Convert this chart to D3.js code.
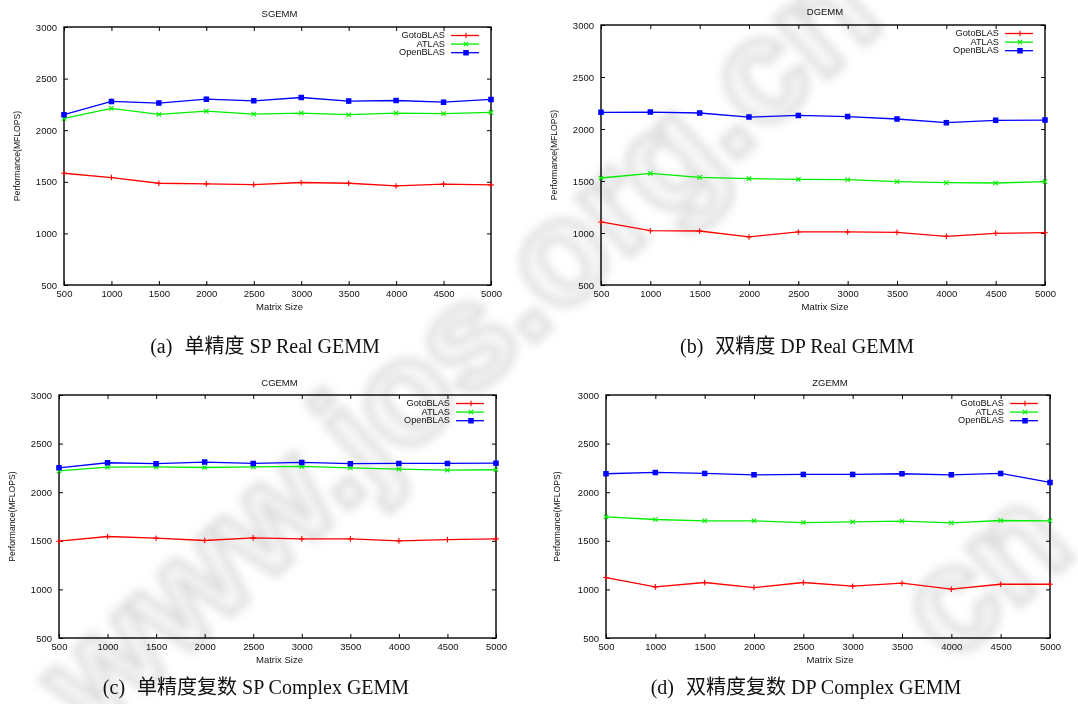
<!DOCTYPE html>
<html>
<head>
<meta charset="utf-8">
<script src="https://cdn.jsdelivr.net/npm/d3@7"></script>
<style>
  html, body { margin: 0; padding: 0; background: #fff; }
  svg { display: block; }
  .tick-label, .legend-label, .panel-title, .axis-title { font-family: "Liberation Sans", Arial, sans-serif; fill: #111; }
  .caption { font-family: "Liberation Serif", "Times New Roman", "Noto Sans CJK SC", serif; fill: #111; }
</style>
</head>
<body>
<svg id="chart" width="1078" height="704"></svg>
<script>
// matrix sizes along x, tick values along y
const sizes = [500, 1000, 1500, 2000, 2500, 3000, 3500, 4000, 4500, 5000];
const yTicks = [500, 1000, 1500, 2000, 2500, 3000];
const seriesNames = ["GotoBLAS", "ATLAS", "OpenBLAS"];

// SGEMM
const sgemmGoto = [1583, 1541, 1486, 1480, 1473, 1493, 1486, 1460, 1477, 1470];
const sgemmAtlas = [2114, 2211, 2153, 2185, 2156, 2166, 2150, 2166, 2160, 2172];
const sgemmOpen = [2150, 2279, 2263, 2301, 2285, 2317, 2282, 2288, 2272, 2298];

// DGEMM
const dgemmGoto = [1106, 1022, 1019, 962, 1010, 1010, 1006, 968, 997, 1003];
const dgemmAtlas = [1529, 1574, 1535, 1522, 1516, 1513, 1494, 1484, 1481, 1494];
const dgemmOpen = [2160, 2163, 2154, 2115, 2131, 2119, 2096, 2061, 2083, 2086];

// CGEMM
const cgemmGoto = [1496, 1544, 1527, 1503, 1530, 1520, 1520, 1499, 1513, 1520];
const cgemmAtlas = [2220, 2258, 2261, 2254, 2261, 2265, 2251, 2237, 2227, 2231];
const cgemmOpen = [2251, 2303, 2293, 2310, 2296, 2306, 2293, 2296, 2296, 2299];

// ZGEMM
const zgemmGoto = [1122, 1026, 1071, 1019, 1071, 1033, 1064, 1002, 1053, 1053];
const zgemmAtlas = [1747, 1719, 1706, 1706, 1688, 1695, 1702, 1685, 1709, 1706];
const zgemmOpen = [2190, 2203, 2193, 2179, 2183, 2183, 2190, 2179, 2193, 2100];

const panelTitles = ["SGEMM", "DGEMM", "CGEMM", "ZGEMM"];
const captionTags = ["(a)", "(b)", "(c)", "(d)"];
const captionTexts = ["单精度 SP Real GEMM", "双精度 DP Real GEMM", "单精度复数 SP Complex GEMM", "双精度复数 DP Complex GEMM"];
const panelSeries = [
    [sgemmGoto, sgemmAtlas, sgemmOpen],
    [dgemmGoto, dgemmAtlas, dgemmOpen],
    [cgemmGoto, cgemmAtlas, cgemmOpen],
    [zgemmGoto, zgemmAtlas, zgemmOpen]
];

// watermark pieces (the second one is only partly on the page)
const watermarkTexts = ["www.jos.org.cn", "cn"];

// where each panel sits on the page
const layout = [
    {left: 64, right: 491, top: 27, bottom: 285, titleY: 14, yLabelX: 18, capX: 265, capY: 353},
    {left: 601, right: 1045, top: 25, bottom: 285, titleY: 12, yLabelX: 555, capX: 797, capY: 353},
    {left: 59, right: 496, top: 395, bottom: 638, titleY: 383, yLabelX: 13, capX: 256, capY: 694},
    {left: 606, right: 1050, top: 395, bottom: 638, titleY: 383, yLabelX: 558, capX: 806, capY: 694}
];
const watermarkEnds = [[886, 24], [1078, 552]];

const colors = ["#ff0000", "#00ee00", "#0000ff"];

// gnuplot style point symbols: +, x, boxed *
function marker(kind) {
    const s = 2.8, c = 2.2;
    const plus = `M${-s},0H${s}M0,${-s}V${s}`;
    const cross = `M${-c},${-c}L${c},${c}M${-c},${c}L${c},${-c}`;
    if (kind === 0) return plus;
    if (kind === 1) return cross;
    return plus + cross + `M${-c},${-c}H${c}V${c}H${-c}Z`;
}

const svg = d3.select("#chart");

// soft watermark behind everything
const defs = svg.append("defs");
defs.append("filter").attr("id", "wmBlur")
    .attr("x", "-20%").attr("y", "-20%").attr("width", "140%").attr("height", "140%")
    .append("feGaussianBlur").attr("stdDeviation", 5);

const wm = svg.append("g").attr("filter", "url(#wmBlur)").attr("opacity", 0.42);
watermarkTexts.forEach((t, i) => {
    const [x, y] = watermarkEnds[i];
    wm.append("text")
        .attr("transform", `translate(${x},${y}) rotate(-42)`)
        .attr("text-anchor", "end")
        .attr("font-family", "Liberation Sans, Arial, sans-serif")
        .attr("font-weight", "bold")
        .attr("font-size", 145)
        .attr("fill", "#f0f0f0")
        .attr("stroke", "#a8a8a8")
        .attr("stroke-width", 7)
        .text(t);
});

layout.forEach((L, p) => {
    const g = svg.append("g");
    const x = d3.scaleLinear().domain([500, 5000]).range([L.left, L.right]);
    const y = d3.scaleLinear().domain([500, 3000]).range([L.bottom, L.top]);
    const tickLen = 4;

    // inward ticks on all four sides
    const bottomAxis = d3.axisBottom(x).tickValues(sizes).tickSize(-tickLen).tickPadding(5).tickFormat(d3.format("d"));
    const topAxis = d3.axisTop(x).tickValues(sizes).tickSize(-tickLen).tickFormat("");
    const leftAxis = d3.axisLeft(y).tickValues(yTicks).tickSize(-tickLen).tickPadding(7).tickFormat(d3.format("d"));
    const rightAxis = d3.axisRight(y).tickValues(yTicks).tickSize(-tickLen).tickFormat("");

    const axes = [
        g.append("g").attr("transform", `translate(0,${L.bottom})`).call(bottomAxis),
        g.append("g").attr("transform", `translate(0,${L.top})`).call(topAxis),
        g.append("g").attr("transform", `translate(${L.left},0)`).call(leftAxis),
        g.append("g").attr("transform", `translate(${L.right},0)`).call(rightAxis)
    ];
    axes.forEach(a => {
        a.select(".domain").remove();
        a.selectAll("line").attr("stroke", "#000").attr("stroke-width", 1);
        a.selectAll("text").attr("class", "tick-label").attr("font-size", 9.5).attr("fill", "#111");
    });

    g.append("rect")
        .attr("x", L.left).attr("y", L.top)
        .attr("width", L.right - L.left).attr("height", L.bottom - L.top)
        .attr("fill", "none").attr("stroke", "#000").attr("stroke-width", 1.4);

    g.append("text").attr("class", "panel-title")
        .attr("x", (L.left + L.right) / 2 + 2).attr("y", L.titleY)
        .attr("text-anchor", "middle").attr("dominant-baseline", "middle")
        .attr("font-size", 9.5).text(panelTitles[p]);

    g.append("text").attr("class", "axis-title")
        .attr("x", (L.left + L.right) / 2 + 2).attr("y", L.bottom + 25)
        .attr("text-anchor", "middle").attr("font-size", 9.5).text("Matrix Size");

    g.append("text").attr("class", "axis-title")
        .attr("transform", `translate(${L.yLabelX},${(L.top + L.bottom) / 2}) rotate(-90)`)
        .attr("text-anchor", "middle").attr("dominant-baseline", "middle")
        .attr("font-size", 8.6).text("Performance(MFLOPS)");

    const line = d3.line().x((d, i) => x(sizes[i])).y(d => y(d));

    panelSeries[p].forEach((vals, s) => {
        g.append("path").datum(vals)
            .attr("d", line)
            .attr("fill", "none").attr("stroke", colors[s]).attr("stroke-width", 1.3);
        g.selectAll(null).data(vals).enter().append("path")
            .attr("transform", (d, i) => `translate(${x(sizes[i])},${y(d)})`)
            .attr("d", marker(s))
            .attr("fill", s === 2 ? colors[s] : "none")
            .attr("fill-opacity", 0.25)
            .attr("stroke", colors[s]).attr("stroke-width", 1.1);

        // legend entry
        const ly = L.top + 8.5 + s * 8.6;
        g.append("text").attr("class", "legend-label")
            .attr("x", L.right - 46).attr("y", ly)
            .attr("text-anchor", "end").attr("dominant-baseline", "middle")
            .attr("font-size", 9.2).text(seriesNames[s]);
        g.append("line")
            .attr("x1", L.right - 40).attr("x2", L.right - 12)
            .attr("y1", ly).attr("y2", ly)
            .attr("stroke", colors[s]).attr("stroke-width", 1.3);
        g.append("path")
            .attr("transform", `translate(${L.right - 25},${ly})`)
            .attr("d", marker(s))
            .attr("fill", s === 2 ? colors[s] : "none")
            .attr("fill-opacity", 0.25)
            .attr("stroke", colors[s]).attr("stroke-width", 1.1);
    });

    const cap = svg.append("text").attr("class", "caption")
        .attr("x", L.capX).attr("y", L.capY)
        .attr("text-anchor", "middle").attr("font-size", 20);
    cap.append("tspan").text(captionTags[p]);
    cap.append("tspan").attr("dx", 12).text(captionTexts[p]);
});
</script>
</body>
</html>
